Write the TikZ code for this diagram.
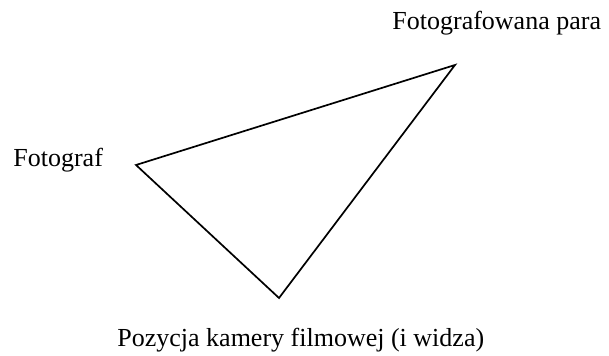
\documentclass[tikz,border=0pt]{standalone}
\usepackage{fontspec}
\setmainfont{Liberation Serif}

\begin{document}
\begin{tikzpicture}[x=0.5pt,y=-0.5pt]
  \tikzset{
    label/.style={font=\fontsize{13}{15}\selectfont,inner sep=0pt,anchor=base west},
    side/.style={line width=0.85pt,line join=miter}
  }
  \useasboundingbox (0,0) rectangle (609,356);

  \coordinate (fotograf) at (136,165);
  \coordinate (para) at (455,65);
  \coordinate (kamera) at (279,298);

  \draw[side] (fotograf) -- (para) -- (kamera) -- cycle;

  \node[label] (lFotograf) at (13,167) {Fotograf};
  \node[label] (lPara) at (392,30) {Fotografowana para};
  \node[label] (lKamera) at (117,347) {Pozycja kamery filmowej (i widza)};
\end{tikzpicture}
\end{document}
